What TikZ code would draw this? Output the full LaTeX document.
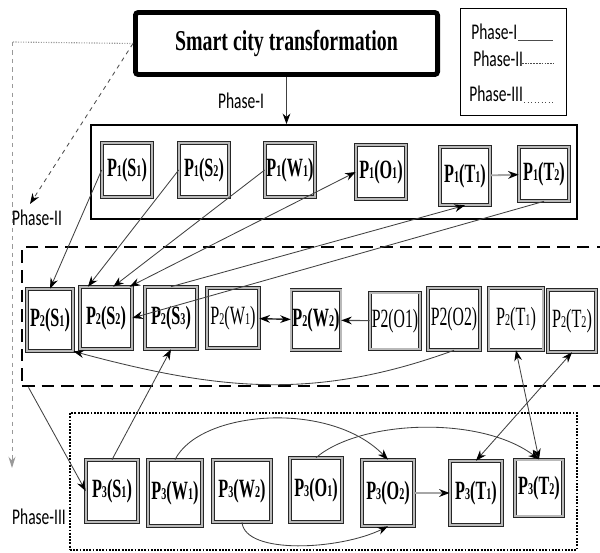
\documentclass[tikz,border=0pt]{standalone}
\usepackage{graphicx}
\usepackage{fontspec}
\setmainfont{Liberation Serif}
\newfontfamily\phasefont{Carlito}
\usetikzlibrary{arrows.meta}

\newcommand{\boxlab}[4]{\scalebox{0.8}[1.3]{#1{\small #2}(#3{\small #4})}}
\newcommand{\phaselab}[1]{\scalebox{1}[1.45]{#1}}

\tikzset{
  pbox/.style={rectangle, draw=black!85, line width=0.45pt, double=gray!55,
               double distance=1.3pt, fill=white, inner sep=1pt,
               font=\Large\bfseries},
  phasetxt/.style={inner sep=0pt, font=\phasefont\fontsize{11}{13}\selectfont},
  link/.style={draw=black!75, line width=0.6pt}
}

\begin{document}
\begin{tikzpicture}[x=0.025cm,y=-0.025cm]
\useasboundingbox (0,0) rectangle (600,553);

% the three phases
\node[draw, line width=1.3pt, minimum width=12.15cm, minimum height=2.35cm] (ph1) at (334,172) {};
\node[draw, line width=2pt, dash pattern=on 9pt off 5pt, minimum width=14.95cm, minimum height=3.475cm] (ph2) at (321,316.5) {};
\node[draw, line width=1.3pt, densely dotted, minimum width=12.675cm, minimum height=3.425cm] (ph3) at (323.5,481.5) {};

\node[draw, line width=3.5pt, rounded corners=2pt, minimum width=7.55cm, minimum height=1.55cm,
      font=\Large\bfseries] (title) at (286.5,43.5) {\scalebox{0.98}[1.42]{Smart city transformation}};

% legend
\node[draw, line width=0.5pt, minimum width=2.65cm, minimum height=2.675cm] (legend) at (513,62) {};
\node[phasetxt, anchor=base west] (lgone) at (471,39) {\phaselab{Phase-I}};
\node[phasetxt, anchor=base west] (lgtwo) at (473,66) {\phaselab{Phase-II}};
\node[phasetxt, anchor=base west] (lgthree) at (469,101) {\phaselab{Phase-III}};
\draw[black!70, line width=0.6pt] (518,40) -- (553,40);
\draw[black!70, line width=0.5pt, dash pattern=on 1.2pt off 0.8pt] (522,63) -- (553,63);
\draw[black!70, line width=0.5pt, dotted] (524,102) -- (553,102);

\node[phasetxt] (lbone) at (241,101) {\phaselab{Phase-I}};
\node[phasetxt] (lbtwo) at (37,218) {\phaselab{Phase-II}};
\node[phasetxt] (lbthree) at (39,517) {\phaselab{Phase-III}};

\begin{scope}[every node/.style={pbox, minimum width=1.25cm, minimum height=1.35cm}]
    \node (p1s1) at (127,170) {\boxlab{P}{1}{S}{1}};
    \node (p1s2) at (204,170) {\boxlab{P}{1}{S}{2}};
    \node (p1w1) at (290,170) {\boxlab{P}{1}{W}{1}};
    \node (p1o1) at (381,172) {\boxlab{P}{1}{O}{1}};
    \node[minimum height=1.45cm] (p1t1) at (465,176) {\boxlab{P}{1}{T}{1}};
    \node (p1t2) at (544,174) {\boxlab{P}{1}{T}{2}};
\end{scope}

\begin{scope}[every node/.style={pbox, minimum width=1.3cm, minimum height=1.55cm}]
    \node[minimum width=1.15cm] (p2s1) at (50,320) {\boxlab{P}{2}{S}{1}};
    \node (p2s2) at (106,318) {\boxlab{P}{2}{S}{2}};
    \node (p2s3) at (171,318) {\boxlab{P}{2}{S}{3}};
    \node[font=\Large, minimum height=1.5cm] (p2w1) at (233,318) {\boxlab{P}{2}{W}{1}};
    \node[minimum width=1.2cm, minimum height=1.5cm] (p2w2) at (316,320) {\boxlab{P}{2}{W}{2}};
    \node[font=\Large, minimum width=1.25cm, minimum height=1.42cm] (p2o1) at (395,321) {\scalebox{0.78}[1.3]{P2(O1)}};
    \node[font=\Large] (p2o2) at (454,319) {\scalebox{0.78}[1.3]{P2(O2)}};
    \node[font=\Large, minimum width=1.37cm] (p2t1) at (516,319) {\boxlab{P}{2}{T}{1}};
    \node[font=\Large, minimum width=1.2cm] (p2t2) at (572,321) {\boxlab{P}{2}{T}{2}};

    \node (p3s1) at (112,491) {\boxlab{P}{3}{S}{1}};
    \node[minimum width=1.35cm, minimum height=1.65cm] (p3w1) at (175,493) {\boxlab{P}{3}{W}{1}};
    \node[minimum width=1.45cm] (p3w2) at (242,491) {\boxlab{P}{3}{W}{2}};
    \node[minimum height=1.6cm] (p3o1) at (316,490) {\boxlab{P}{3}{O}{1}};
    \node[minimum height=1.65cm] (p3o2) at (388,493) {\boxlab{P}{3}{O}{2}};
    \node[minimum height=1.6cm] (p3t1) at (476,493) {\boxlab{P}{3}{T}{1}};
    \node[minimum width=1.2cm, minimum height=1.42cm] (p3t2) at (539,488) {\boxlab{P}{3}{T}{2}};
\end{scope}

\coordinate (ph2tip) at (30,204);
\coordinate (ph3turn) at (12,42);
\coordinate (ph3tip) at (12,468);

\begin{scope}[>={Stealth[black,length=7.5pt,width=5.5pt]},
              every edge/.style={link}]
    \path [->] (title.south) edge (title.south |- ph1.north);
    \path [->] (title.west) edge[dashed, black!70] (ph2tip);
    \draw [gray!80, densely dotted, line width=0.8pt] (title.west) -- (ph3turn);
    \path [->, >={Stealth[gray!80,length=8pt,width=5pt]}] (ph3turn) edge[dashed, gray!80, line width=0.7pt] (ph3tip);

    \path [->] (p1t1) edge[draw=gray!70, line width=1.3pt] (p1t2);
    \path [->] (p1s1.west) edge (p2s1.north);
    \path [->] (p1s2.west) edge (p2s2.120);
    \path [->] (p1w1.west) edge (p2s2.77);
    \path [<->] (p2s2.53) edge (p1o1.west);
    \path [->] (p2s3.north) edge (p1t1.south);
    \path [->] (p1t2.south) edge (p2s2.east);

    \path [<->] (p2w1) edge[line width=1pt, black!85] (p2w2);
    \path [->] (p2o1) edge[line width=0.8pt, black!70] (p2w2);
    \path [->] (p2o2.south) edge[out=200, in=-15] (p2s1.south east);

    \path [->] ([xshift=0.2cm]ph2.south west) edge (p3s1.west);
    \path [->] (p3s1.north) edge (p2s3.south);
    \path [<->] (p2t1.south) edge (p3t2.north);
    \path [<->] (p2t2.south) edge (p3t1.north);

    \draw [link, ->] (p3w1.north) .. controls (200,410) and (330,400) .. (p3o2.north);
    \draw [link, ->] (p3o1.north) .. controls (360,420) and (480,415) .. (p3t2.north);
    \draw [link, ->] (p3w2.south) .. controls (245,555) and (340,550) .. (p3o2.south);
    \path [->] (p3o2) edge[draw=gray!70, line width=1.3pt] (p3t1);
\end{scope}

\end{tikzpicture}
\end{document}
